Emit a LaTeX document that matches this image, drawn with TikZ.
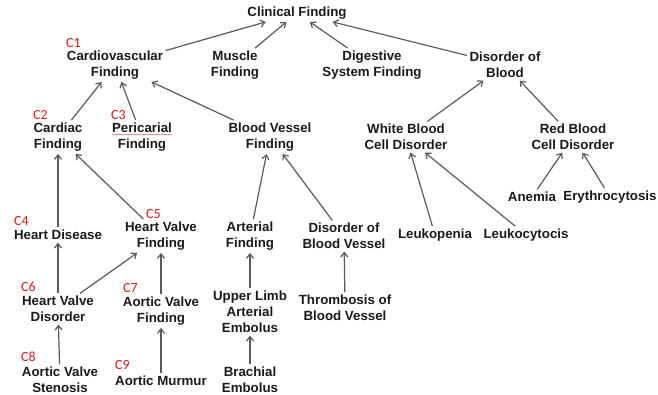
\documentclass[tikz,border=0pt]{standalone}
\usepackage{fontspec}
\setmainfont{Liberation Sans}
\newfontfamily\carlito{Carlito}
\usetikzlibrary{arrows.meta}
\definecolor{txt}{HTML}{1A1A1A}
\definecolor{lnc}{HTML}{5A5A5A}
\definecolor{cred}{HTML}{D81C1C}
\tikzset{
  lbl/.style={font=\bfseries\fontsize{13.3}{16}\selectfont, align=center, text=txt, inner sep=2.5pt},
  clab/.style={font=\carlito\fontsize{14}{14}\selectfont, text=cred, inner sep=0pt, anchor=west},
  arr/.style={draw=lnc, line width=1.2pt, -{Straight Barb[length=4.5pt,width=7pt,line width=1.2pt]}}
}
\begin{document}
\begin{tikzpicture}[x=1pt,y=-1pt]
\useasboundingbox[fill=white] (0,0) rectangle (658,395);
% nodes
\node[lbl] (clin) at (297,13) {Clinical Finding};
\node[lbl] (cv) at (115,65) {Cardiovascular\\Finding};
\node[lbl] (mus) at (235,65) {Muscle\\Finding};
\node[lbl] (dig) at (372,65) {Digestive\\System Finding};
\node[lbl] (dob) at (505,65) {Disorder of\\Blood};
\node[lbl] (card) at (58,137) {Cardiac\\Finding};
\node[lbl] (peri) at (142,137) {Pericarial\\Finding};
\node[lbl] (bvf) at (270,137) {Blood Vessel\\Finding};
\node[lbl] (wbc) at (406,137) {White Blood\\Cell Disorder};
\node[lbl] (rbc) at (573,137) {Red Blood\\Cell Disorder};
\node[lbl] (anem) at (532,197) {Anemia};
\node[lbl] (ery) at (610,197) {Erythrocytosis};
\node[lbl] (hd) at (58,235) {Heart Disease};
\node[lbl] (hvf) at (161,236) {Heart Valve\\Finding};
\node[lbl] (art) at (250,236) {Arterial\\Finding};
\node[lbl] (dobv) at (344,236) {Disorder of\\Blood Vessel};
\node[lbl] (leukp) at (435,235) {Leukopenia};
\node[lbl] (leukc) at (526,235) {Leukocytocis};
\node[lbl] (hvd) at (58,309) {Heart Valve\\Disorder};
\node[lbl] (avf) at (161,311) {Aortic Valve\\Finding};
\node[lbl] (ule) at (250,312) {Upper Limb\\Arterial\\Embolus};
\node[lbl] (thr) at (345,308) {Thrombosis of\\Blood Vessel};
\node[lbl] (avs) at (60,380) {Aortic Valve\\Stenosis};
\node[lbl] (am) at (161,381) {Aortic Murmur};
\node[lbl] (brach) at (250,380) {Brachial\\Embolus};
% red labels
\node[clab] (c1) at (66,43) {C1};
\node[clab] (c2) at (33,115) {C2};
\node[clab] (c3) at (111,115) {C3};
\node[clab] (c4) at (14,221) {C4};
\node[clab] (c5) at (146,214) {C5};
\node[clab] (c6) at (21,287) {C6};
\node[clab] (c7) at (123,288) {C7};
\node[clab] (c8) at (21,357) {C8};
\node[clab] (c9) at (115,365) {C9};
% spell-check underline
\coordinate (u1) at (112,134.5);
\coordinate (u2) at (172,134.5);
\draw[cred!50, line width=0.5pt] (u1) -- (u2);
% connectors
\draw[arr] (cv) -- (clin);
\draw[arr] (mus) -- (clin);
\draw[arr] (dig) -- (clin);
\draw[arr] (dob) -- (clin);
\draw[arr] (card) -- (cv);
\draw[arr] (peri) -- (cv);
\draw[arr] (bvf) -- (cv);
\draw[arr] (wbc) -- (dob);
\draw[arr] (rbc) -- (dob);
\draw[arr] (anem) -- (rbc);
\draw[arr] (ery) -- (rbc);
\draw[arr] (leukp) -- (wbc);
\draw[arr] (leukc) -- (wbc);
\draw[arr] (hd) -- (card);
\draw[arr] (hvf) -- (card);
\draw[arr] (art) -- (bvf);
\draw[arr] (dobv) -- (bvf);
\draw[arr] (hvd) -- (hd);
\draw[arr] (hvd) -- (hvf);
\draw[arr] (avf) -- (hvf);
\draw[arr] (ule) -- (art);
\draw[arr] (thr) -- (dobv);
\draw[arr] (avs) -- (hvd);
\draw[arr] (am) -- (avf);
\draw[arr] (brach) -- (ule);
\end{tikzpicture}
\end{document}
